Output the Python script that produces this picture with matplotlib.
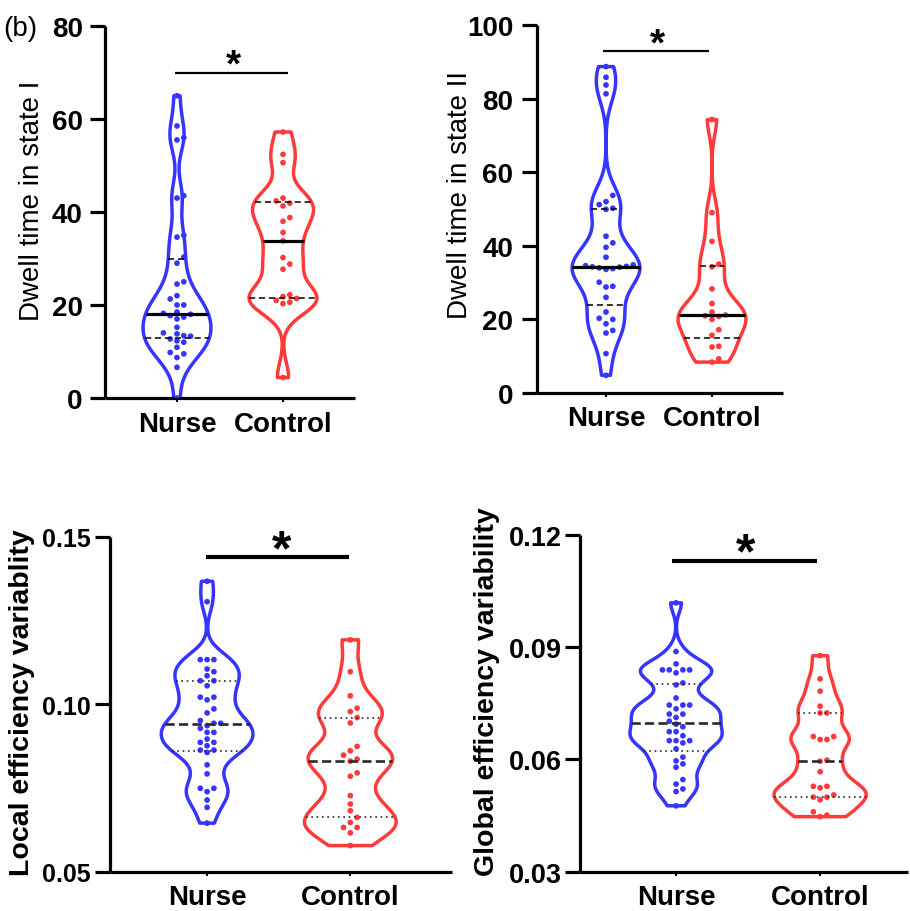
import numpy as np
import matplotlib
matplotlib.use('Agg')
import matplotlib.pyplot as plt
from matplotlib.patches import Polygon

groups = ['Nurse', 'Control']

# Panel A: Dwell time in state I
a_nurse = [65, 58.5, 56, 55.5, 43.5, 43, 35, 34.6, 30.3, 29, 25, 24.5, 22, 21.3, 20, 20,
           18.5, 18.2, 18, 17.7, 17.4, 17, 15.2, 14, 13.8, 13.4, 13.3, 12.7, 12.3, 12,
           10.9, 9.8, 9.5, 8.7, 6.6, 0]
a_control = [57.2, 52.4, 50.6, 43, 42.4, 41.9, 41.3, 38.8, 38, 35.6, 33.8, 30.2, 28.8,
             27.7, 22.2, 21.8, 21.4, 21, 20.6, 20.3, 4.4]

# Panel B: Dwell time in state II
b_nurse = [88.7, 85.8, 83.7, 81.3, 53.7, 52.0, 51.2, 50.2, 49.9, 42.6, 40.8, 39.6, 36.9,
           34.8, 34.6, 34.4, 34.3, 34.2, 34.0, 33.8, 33.6, 30.1, 29.0, 28.8, 26.0, 22.0,
           20.3, 20.0, 18.8, 17.0, 16.3, 10.7, 4.8]
b_control = [74.3, 49.0, 41.2, 35.0, 34.3, 28.3, 24.3, 22.0, 21.2, 21.0, 20.8, 20.0,
             17.2, 15.7, 12.7, 12.5, 9.3, 8.4]

# Panel C: Local efficiency variability
c_nurse = [0.1367, 0.1306, 0.1133, 0.1133, 0.1133, 0.1105, 0.1097, 0.1085, 0.1070, 0.1070,
           0.1055, 0.1021, 0.1021, 0.1013, 0.0986, 0.0974, 0.0951, 0.0943, 0.0943, 0.0936,
           0.0928, 0.0916, 0.0916, 0.0896, 0.0886, 0.0886, 0.0876, 0.0863, 0.0863, 0.0856,
           0.0819, 0.0792, 0.0749, 0.0749, 0.0739, 0.0714, 0.0692, 0.0645]
c_control = [0.1192, 0.1097, 0.1025, 0.0988, 0.0978, 0.0960, 0.0944, 0.0874, 0.0861,
             0.0848, 0.0836, 0.0830, 0.0795, 0.0785, 0.0727, 0.0702, 0.0682, 0.0662,
             0.0647, 0.0632, 0.0632, 0.0616, 0.0578]

# Panel D: Global efficiency variability
d_nurse = [0.1018, 0.0888, 0.0855, 0.0839, 0.0839, 0.0839, 0.0839, 0.0831, 0.0804, 0.0799,
           0.0764, 0.0745, 0.0745, 0.0745, 0.0735, 0.0721, 0.0721, 0.0712, 0.0702, 0.0694,
           0.0687, 0.0674, 0.0674, 0.0663, 0.0650, 0.0650, 0.0650, 0.0644, 0.0628, 0.0606,
           0.0596, 0.0588, 0.0579, 0.0546, 0.0534, 0.0521, 0.0514, 0.0476]
d_control = [0.0877, 0.0815, 0.0782, 0.0742, 0.0724, 0.0724, 0.0661, 0.0661, 0.0653,
             0.0653, 0.0598, 0.0595, 0.0567, 0.0528, 0.0528, 0.0524, 0.0505, 0.0499,
             0.0499, 0.0492, 0.0460, 0.0451, 0.0447]

BLUE = '#3535ff'
RED = '#ff3a3a'
FONT = 'Liberation Sans'
plt.rcParams['font.family'] = [FONT, 'DejaVu Sans']

W, H = 910, 912
fig = plt.figure(figsize=(W / 100, H / 100), dpi=100)


def add_axes_px(x0, x1, ytop, ybot):
    return fig.add_axes([x0 / W, (H - ybot) / H, (x1 - x0) / W, (ybot - ytop) / H])


def kde_shape(data, bw_factor, n=500):
    d = np.asarray(data, float)
    y = np.linspace(d.min(), d.max(), n)
    h = bw_factor * d.std(ddof=1) * len(d) ** (-0.2)
    dens = np.exp(-0.5 * ((y[:, None] - d[None, :]) / h) ** 2).sum(axis=1)
    return y, dens / dens.max()


def swarm_x(ax, x0, data, spacing_px):
    trans = ax.transData
    inv = trans.inverted()
    order = np.argsort(data)
    placed = []
    out = np.zeros(len(data))
    x0px = trans.transform((x0, 0))[0]
    cands = [0.0]
    for m in range(1, 10):
        cands += [m * spacing_px, -m * spacing_px]
    for i in order:
        ypx = trans.transform((x0, data[i]))[1]
        for c in cands:
            ok = all((c - px) ** 2 + (ypx - py) ** 2 >= (0.92 * spacing_px) ** 2 for px, py in placed)
            if ok:
                placed.append((c, ypx))
                out[i] = inv.transform((x0px + c, ypx))[0]
                break
    return out


def draw_violin(ax, x0, data, color, bw, width, style):
    d = np.asarray(data, float)
    y, dens = kde_shape(d, bw)
    hw = dens * width / 2
    xs = np.concatenate([x0 - hw, (x0 + hw)[::-1]])
    ys = np.concatenate([y, y[::-1]])
    ax.add_patch(Polygon(np.column_stack([xs, ys]), closed=True, fill=False,
                         edgecolor=color, lw=2.5, joinstyle='round', zorder=2))
    px = swarm_x(ax, x0, d, 6.8)
    ax.scatter(px, d, s=17, color=color, edgecolors='none', zorder=3)
    q1, med, q3 = np.percentile(d, [25, 50, 75], method='weibull')
    for q, kind in [(q1, 'q'), (med, 'm'), (q3, 'q')]:
        w = np.interp(q, y, hw)
        if style == 'top':
            if kind == 'm':
                ax.plot([x0 - w, x0 + w], [q, q], color='black', lw=2.3, zorder=4,
                        solid_capstyle='butt')
            else:
                ax.plot([x0 - w, x0 + w], [q, q], color='black', lw=1.1, zorder=4,
                        dashes=(4, 2.5))
        else:
            if kind == 'm':
                ax.plot([x0 - w, x0 + w], [q, q], color='#2a2a2a', lw=1.9, zorder=4,
                        dashes=(3.5, 1.6))
            else:
                ax.plot([x0 - w, x0 + w], [q, q], color='#2a2a2a', lw=1.2, zorder=4,
                        dashes=(1, 2.2))


def style_axes(ax, xlim, ylim, yticks, yticklabels, tick_fs, ypad):
    ax.set_xlim(*xlim)
    ax.set_ylim(*ylim)
    for s in ['top', 'right']:
        ax.spines[s].set_visible(False)
    for s in ['left', 'bottom']:
        ax.spines[s].set_linewidth(2.3)
        ax.spines[s].set_capstyle('butt')
    ax.set_yticks(yticks)
    ax.set_yticklabels(yticklabels, fontsize=tick_fs, fontweight='bold')
    ax.set_xticks([0, 1])
    ax.set_xticklabels(groups, fontsize=20, fontweight='bold')
    ax.tick_params(axis='y', length=11, width=2.3, pad=ypad)
    ax.tick_params(axis='x', length=3, width=1.5, pad=6)
    ax.patch.set_alpha(0)


def sig(ax, x0, x1, ybar, xs, ys, lw, fs):
    ax.plot([x0, x1], [ybar, ybar], color='black', lw=lw, solid_capstyle='butt', clip_on=False)
    ax.annotate('*', (xs, ys), xytext=(0, -0.47 * fs), textcoords='offset points',
                ha='center', va='baseline', fontsize=fs, fontweight='bold', annotation_clip=False)


BW = 0.45
WID = 0.64

# Panel A
axA = add_axes_px(105, 355, 27, 399)
style_axes(axA, (-0.679, 1.679), (0, 80), [0, 20, 40, 60, 80],
           ['0', '20', '40', '60', '80'], 20, 5)
draw_violin(axA, 0, a_nurse, BLUE, BW, WID, 'top')
draw_violin(axA, 1, a_control, RED, BW, WID, 'top')
sig(axA, -0.02, 1.05, 69.9, 0.53, 73.2, 1.6, 28)
fig.text(32 / W, 1 - 201 / H, 'Dwell time in state I', rotation=90, ha='center', va='center', fontsize=20)

# Panel B
axB = add_axes_px(537, 783, 26, 394)
style_axes(axB, (-0.651, 1.67), (0, 100), [0, 20, 40, 60, 80, 100],
           ['0', '20', '40', '60', '80', '100'], 20, 6)
draw_violin(axB, 0, b_nurse, BLUE, BW, WID, 'top')
draw_violin(axB, 1, b_control, RED, BW, WID, 'top')
sig(axB, -0.03, 0.97, 92.9, 0.49, 97.0, 1.6, 28)
fig.text(460 / W, 1 - 195 / H, 'Dwell time in state II', rotation=90, ha='center', va='center', fontsize=20)

# Panel C
axC = add_axes_px(110, 452, 537.7, 872.7)
style_axes(axC, (-0.678, 1.71), (0.05, 0.15), [0.05, 0.10, 0.15],
           ['0.05', '0.10', '0.15'], 18, 3)
draw_violin(axC, 0, c_nurse, BLUE, BW, WID, 'bottom')
draw_violin(axC, 1, c_control, RED, BW, WID, 'bottom')
sig(axC, -0.01, 0.99, 0.1439, 0.52, 0.1488, 3.0, 36)
fig.text(22 / W, 1 - 703 / H, 'Local efficiency variablity', rotation=90, ha='center', va='center',
         fontsize=20.5, fontweight='bold')

# Panel D
axD = add_axes_px(580, 908, 535.7, 872.7)
style_axes(axD, (-0.667, 1.61), (0.03, 0.12), [0.03, 0.06, 0.09, 0.12],
           ['0.03', '0.06', '0.09', '0.12'], 19.5, 2)
draw_violin(axD, 0, d_nurse, BLUE, BW, WID, 'bottom')
draw_violin(axD, 1, d_control, RED, BW, WID, 'bottom')
sig(axD, -0.03, 0.98, 0.1131, 0.48, 0.1175, 3.0, 36)
fig.text(487 / W, 1 - 692 / H, 'Global efficiency variability', rotation=90, ha='center', va='center',
         fontsize=20.5, fontweight='bold')

fig.text(3 / W, 1 - 29 / H, '(b)', ha='left', va='center', fontsize=20)

fig.savefig('out.png', dpi=100)
